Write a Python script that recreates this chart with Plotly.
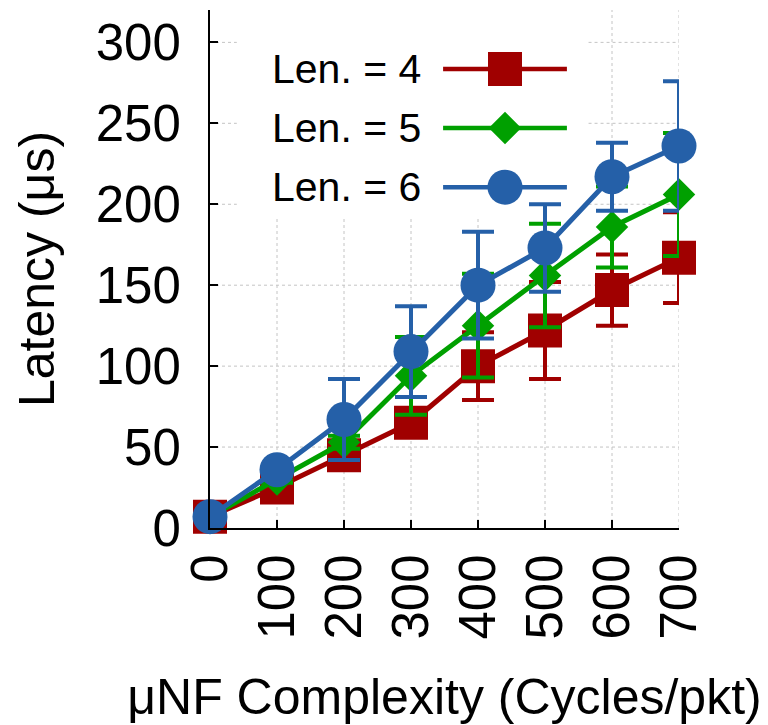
import plotly.graph_objects as go

# ---- data ----
complexity = [0, 100, 200, 300, 400, 500, 600, 700]
len4 = [7, 25, 45, 65, 100, 122, 147, 167]
len4_err = [1, 2, 3, 4, 21, 30, 22, 28]
len5 = [7, 30, 53, 94, 125, 156, 186, 206]
len5_err = [1, 2, 4, 24, 32, 32, 25, 38]
len6 = [7, 36, 67, 109, 150, 173, 217, 236]
len6_err = [1, 3, 25, 28, 33, 27, 21, 40]

series_names = ["Len. = 4", "Len. = 5", "Len. = 6"]
colors = ["#a00000", "#00a000", "#2560a8"]
symbols = ["square", "diamond", "circle"]
msizes = [34, 25, 35]

x_ticks = [0, 100, 200, 300, 400, 500, 600, 700]
y_ticks = [0, 50, 100, 150, 200, 250, 300]
X_RANGE = [0, 700]
Y_RANGE = [0, 320]

FONT = "Liberation Sans, Arial, Helvetica, sans-serif"

fig = go.Figure()

# ---- dotted grid, left open where the legend box sits ----
box_x0, box_x1, box_y0 = 40, 565, 192   # legend box extent in data units
grid_style = dict(color="#c4c4c4", width=1, dash="dot")
for xv in x_ticks[1:]:
    ytop = box_y0 if box_x0 < xv < box_x1 else Y_RANGE[1]
    fig.add_shape(type="line", xref="x", yref="y", x0=xv, x1=xv, y0=Y_RANGE[0],
                  y1=ytop, line=grid_style, layer="below")
for yv in y_ticks[1:]:
    if yv >= box_y0:
        segs = [(X_RANGE[0], box_x0), (box_x1, X_RANGE[1])]
    else:
        segs = [(X_RANGE[0], X_RANGE[1])]
    for a, b in segs:
        fig.add_shape(type="line", xref="x", yref="y", x0=a, x1=b, y0=yv, y1=yv,
                      line=grid_style, layer="below")

for vals, errs, name, col, sym, ms in zip(
    [len4, len5, len6], [len4_err, len5_err, len6_err],
    series_names, colors, symbols, msizes):
    fig.add_trace(go.Scatter(
        x=complexity, y=vals, mode="lines+markers", name=name,
        line=dict(color=col, width=5),
        marker=dict(symbol=sym, size=ms, color=col),
        error_y=dict(type="data", array=errs, visible=True,
                     color=col, thickness=4, width=16),
        cliponaxis=False, showlegend=False,
    ))

# custom gnuplot-like legend (text left, sample right)
legend_rows = [0.886, 0.772, 0.658]
LX0, LX1, LXM, LTX = 0.497, 0.761, 0.629, 0.455
for name, col, sym, ms, yr in zip(series_names, colors, symbols, msizes, legend_rows):
    fig.add_shape(type="line", xref="x domain", yref="y domain",
                  x0=LX0, x1=LX1, y0=yr, y1=yr,
                  line=dict(color=col, width=4.5), layer="above")
    h = ms / 2
    common = dict(xref="x domain", yref="y domain", xsizemode="pixel",
                  ysizemode="pixel", xanchor=LXM, yanchor=yr,
                  fillcolor=col, line=dict(width=0), layer="above")
    if sym == "square":
        fig.add_shape(type="rect", x0=-h, x1=h, y0=-h, y1=h, **common)
    elif sym == "circle":
        fig.add_shape(type="circle", x0=-h, x1=h, y0=-h, y1=h, **common)
    else:
        d = ms * 1.3 / 2
        fig.add_shape(type="path",
                      path=f"M {-d} 0 L 0 {d} L {d} 0 L 0 {-d} Z", **common)
    fig.add_annotation(
        x=LTX, y=yr, xref="x domain", yref="y domain", text=name, showarrow=False,
        xanchor="right", yanchor="middle",
        font=dict(family=FONT, size=41, color="black"))

fig.update_layout(
    width=768, height=725,
    margin=dict(l=202, r=97, t=2, b=205),
    paper_bgcolor="white", plot_bgcolor="white",
    font=dict(family=FONT, size=51, color="black"),
    xaxis=dict(
        range=X_RANGE, tickvals=x_ticks, ticktext=[str(v) for v in x_ticks],
        tickangle=-90, ticks="inside", ticklen=8, tickwidth=2, tickcolor="black",
        showline=True, linecolor="black", linewidth=2,
        showgrid=False, zeroline=False, ticklabelstandoff=4,
        title=dict(text="μNF Complexity (Cycles/pkt)", font=dict(size=50), standoff=41),
    ),
    yaxis=dict(
        range=Y_RANGE, tickvals=y_ticks, ticktext=[str(v) for v in y_ticks],
        ticks="inside", ticklen=8, tickwidth=2, tickcolor="black",
        showline=True, linecolor="black", linewidth=2,
        showgrid=False, zeroline=False, ticklabelstandoff=17,
        title=dict(text="Latency (μs)", font=dict(size=50), standoff=25),
    ),
)

fig.write_html("out.html")
